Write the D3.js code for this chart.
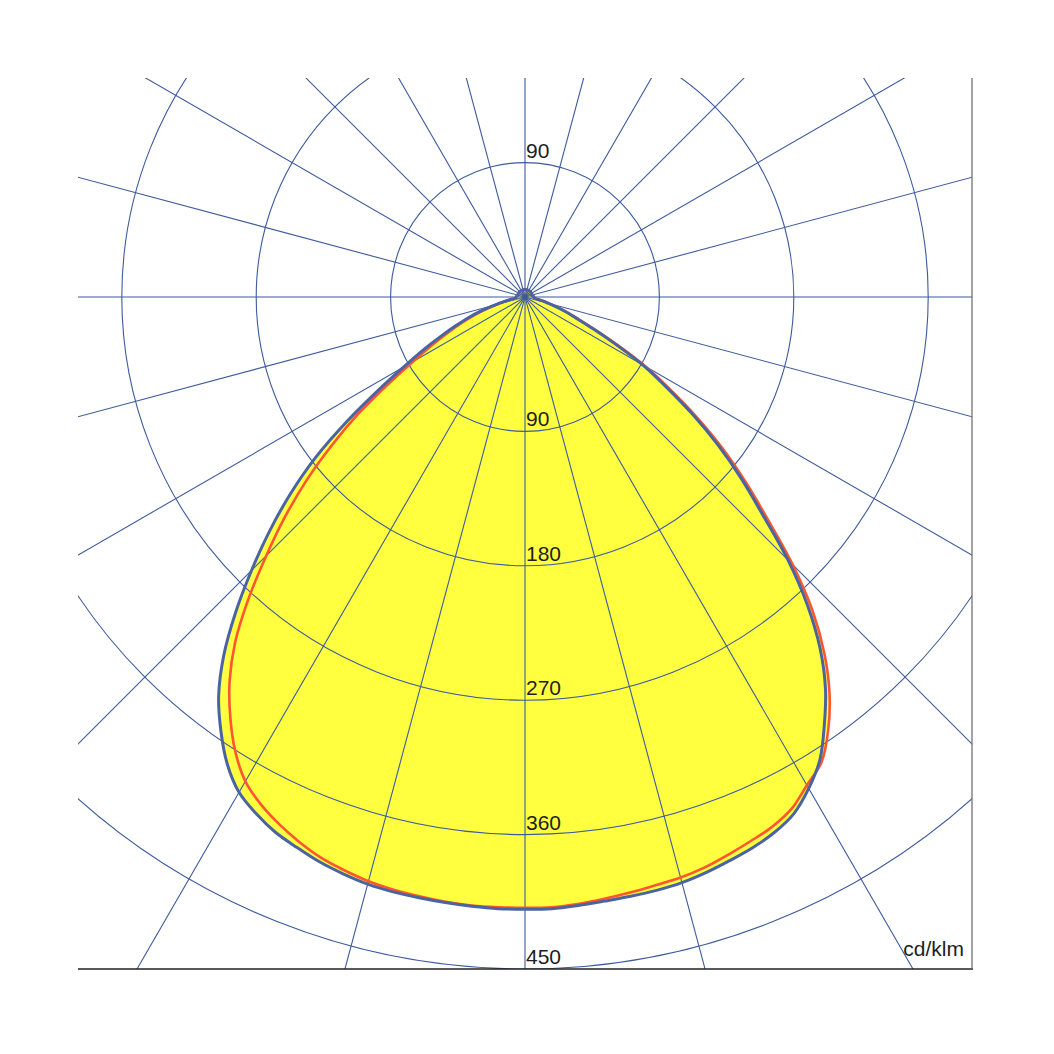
<!DOCTYPE html>
<html>
<head>
<meta charset="utf-8">
<script src="https://cdn.jsdelivr.net/npm/d3@7"></script>
<style>
  html, body { margin: 0; padding: 0; background: #ffffff; }
  svg { display: block; }
  text { font-family: "Liberation Sans", Arial, sans-serif; }
</style>
</head>
<body>
<svg id="chart" width="1054" height="1054"></svg>
<script>
// ---- data (cd/klm) ----
const gammaLower = [0, 2.5, 5, 7.5, 10, 12.5, 15, 17.5, 20, 22.5, 25, 27.5, 30, 32.5, 35, 37.5, 40, 42.5, 45,
                    47.5, 50, 52.5, 55, 57.5, 60, 62.5, 65, 67.5, 70, 72.5, 75, 77.5, 80, 82.5, 85, 87.5, 90];
const c180Values = [410, 410, 409.5, 409, 408.5, 408, 407, 405, 402.5, 399, 395.5, 390, 383, 371, 355, 337, 314, 287, 259,
                    232, 205, 177, 146, 117, 94, 77, 62, 50, 40, 30, 21, 15, 10, 7, 6, 6, 6];
const c0Values   = [410, 410, 409, 408, 407.5, 407, 406, 404, 401.5, 399, 395.5, 390, 380, 367.5, 349.5, 330.5, 307.5, 280, 249,
                    216, 189, 163, 137, 112, 91, 68, 50, 37, 29, 22, 16, 12, 8, 6.5, 6, 6, 6];
const c270Values = [409, 409, 409, 408.5, 407.5, 406.5, 405, 402.5, 399.5, 395, 389.5, 383, 374.5, 361, 344, 325, 302, 274, 245,
                    218, 191, 163, 136, 109, 87, 71, 58, 47, 37, 28, 20, 14, 9, 7, 6, 6, 6];
const c90Values  = [409, 409, 408, 406.5, 405, 403.5, 402.5, 400.5, 397.5, 394.5, 391.5, 386.5, 377.5, 369.5, 354, 335, 312, 285, 253.5,
                    220.5, 193, 167, 140.5, 115, 93.5, 70.5, 52, 39, 30.5, 23, 17, 12.5, 8.5, 6.5, 6, 6, 6];
const gammaUpper  = [95, 100, 105, 110, 115, 120, 125, 130, 135, 140, 145, 150, 155, 160, 165, 170, 175, 180];
const upperValues = [5.5, 5, 5, 5, 5, 5, 5, 5, 5, 5, 5, 5, 5, 5, 5, 5, 5, 5];
const ringValues = [90, 180, 270, 360, 450];
const topRingLabel = 90;
const radialStep = 15;
const unitLabel = "cd/klm";

// ---- layout ----
const cx = 525, cy = 297;
const plot = { x0: 78, y0: 78, x1: 972, y1: 969 };
const r = d3.scaleLinear().domain([0, 450]).range([0, 672]);

const svg = d3.select("#chart");
svg.append("rect").attr("width", 1054).attr("height", 1054).attr("fill", "#fff");

svg.append("defs").append("clipPath").attr("id", "plotClip")
  .append("rect")
  .attr("x", plot.x0).attr("y", plot.y0)
  .attr("width", plot.x1 - plot.x0).attr("height", plot.y1 - plot.y0);

const g = svg.append("g").attr("clip-path", "url(#plotClip)");
const center = g.append("g").attr("transform", `translate(${cx},${cy})`);

const deg = Math.PI / 180;
function buildPoints(rightVals, leftVals) {
  const right = gammaLower.map((gm, i) => ({ gm, v: rightVals[i] }))
    .concat(gammaUpper.map((gm, i) => ({ gm, v: upperValues[i] })));
  const left = gammaLower.map((gm, i) => ({ gm, v: leftVals[i] }))
    .concat(gammaUpper.map((gm, i) => ({ gm, v: upperValues[i] })));
  const pts = [];
  right.slice().reverse().forEach(d => pts.push({ a: Math.PI - d.gm * deg, v: d.v }));
  left.filter(d => d.gm > 0 && d.gm < 180).forEach(d => pts.push({ a: Math.PI + d.gm * deg, v: d.v }));
  return pts;
}

const radial = d3.lineRadial()
  .angle(d => d.a)
  .radius(d => r(d.v))
  .curve(d3.curveCatmullRomClosed.alpha(0.5));

const bluePts = buildPoints(c0Values, c180Values);
const redPts = buildPoints(c90Values, c270Values);

// fills
[bluePts, redPts].forEach(p => {
  center.append("path").attr("d", radial(p)).attr("fill", "#ffff40").attr("stroke", "none");
});

// grid: rings
const gridColor = "#3d5a9c";
center.selectAll("circle.ring")
  .data(ringValues)
  .join("circle")
  .attr("class", "ring")
  .attr("r", d => r(d))
  .attr("fill", "none")
  .attr("stroke", gridColor)
  .attr("stroke-width", 1.1);

// grid: radial lines
const radAngles = d3.range(0, 180, radialStep);
center.selectAll("line.rad")
  .data(radAngles)
  .join("line")
  .attr("class", "rad")
  .attr("x1", d => -1500 * Math.sin(d * deg))
  .attr("y1", d => -1500 * Math.cos(d * deg))
  .attr("x2", d => 1500 * Math.sin(d * deg))
  .attr("y2", d => 1500 * Math.cos(d * deg))
  .attr("stroke", gridColor)
  .attr("stroke-width", 1.1);

// curves
center.append("path").attr("d", radial(redPts))
  .attr("fill", "none").attr("stroke", "#ff5530").attr("stroke-width", 2.6);
center.append("path").attr("d", radial(bluePts))
  .attr("fill", "#3d5a9c").attr("fill-opacity", 0).attr("stroke", "#4a64a2").attr("stroke-width", 3);

// labels
const labelG = svg.append("g").attr("font-size", 21).attr("fill", "#1e1e1e");
labelG.selectAll("text.rl")
  .data(ringValues)
  .join("text")
  .attr("class", "rl")
  .attr("x", cx + 1)
  .attr("y", d => cy + r(d) - 5)
  .text(d => d);
labelG.append("text")
  .attr("x", cx + 1)
  .attr("y", cy - r(topRingLabel) - 5)
  .text(topRingLabel);
labelG.append("text")
  .attr("x", plot.x1 - 8)
  .attr("y", plot.y1 - 13)
  .attr("text-anchor", "end")
  .text(unitLabel);

// frame (bottom and right)
svg.append("line").attr("x1", plot.x0).attr("y1", plot.y1).attr("x2", plot.x1 + 1).attr("y2", plot.y1)
  .attr("stroke", "#222").attr("stroke-width", 1.5);
svg.append("line").attr("x1", plot.x1).attr("y1", plot.y0).attr("x2", plot.x1).attr("y2", plot.y1)
  .attr("stroke", "#666").attr("stroke-width", 1.2);
</script>
</body>
</html>
